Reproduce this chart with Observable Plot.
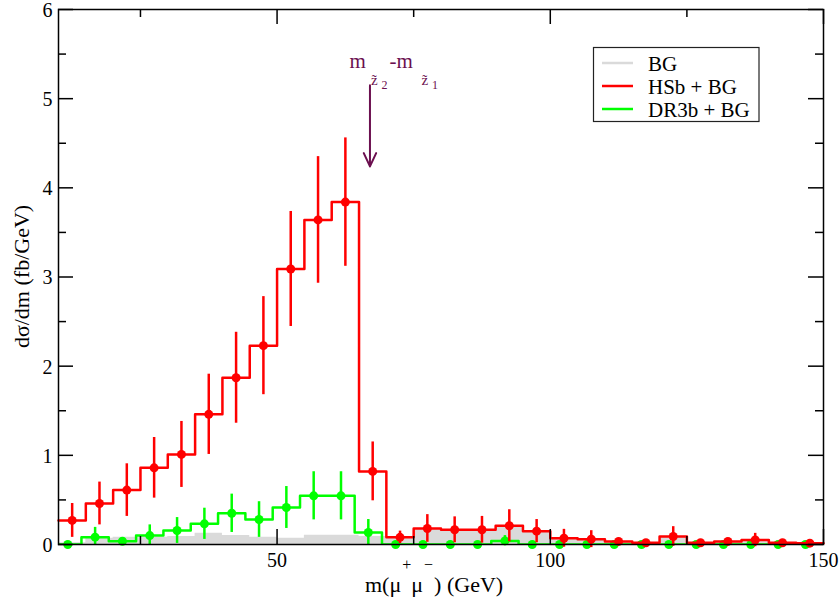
<!DOCTYPE html>
<html><head><meta charset="utf-8">
<script src="https://cdn.jsdelivr.net/npm/d3@7"></script>
<script src="https://cdn.jsdelivr.net/npm/@observablehq/plot@0.6"></script>
<style>body{margin:0;background:#fff}</style>
</head><body><div id="chart"></div>
<script>
// ---------- data ----------
const binCenters = [12.5,17.5,22.5,27.5,32.5,37.5,42.5,47.5,52.5,57.5,62.5,67.5,72.5,77.5,82.5,87.5,92.5,97.5,102.5,107.5,112.5,117.5,122.5,127.5,132.5,137.5,142.5,147.5];
const bgValues = [0.02,0.071,0.082,0.08,0.09,0.127,0.10,0.082,0.07,0.105,0.105,0.09,0.07,0.165,0.15,0.157,0.2,0.15,0.064,0.052,0.02,0.01,0.09,0.01,0.02,0.045,0.015,0.01];
const hsbValues = [0.27,0.46,0.61,0.86,1.01,1.46,1.87,2.23,3.09,3.64,3.84,0.82,0.08,0.18,0.165,0.165,0.21,0.15,0.07,0.06,0.035,0.02,0.09,0.02,0.035,0.05,0.02,0.015];
const hsbErrors = [0.19,0.24,0.295,0.34,0.37,0.45,0.51,0.55,0.645,0.71,0.72,0.33,0.07,0.155,0.145,0.15,0.18,0.13,0.10,0.095,0.03,0.015,0.11,0.015,0.03,0.075,0.015,0.01];
const dr3bCenters = [11.7,16.7,21.7,26.7,31.7,36.7,41.7,46.7,51.7,56.7,61.7,66.7,71.7,76.7,81.7,86.7,91.7,96.7,101.7,106.7,111.7,116.7,121.7,126.7,131.7,136.7,141.7,146.7];
const dr3bValues = [0,0.082,0.037,0.10,0.157,0.232,0.35,0.28,0.415,0.546,0.546,0.135,0,0,0,0,0.04,0,0,0,0,0,0,0,0,0,0,0];
const dr3bErrors = [0,0.11,0.03,0.12,0.145,0.175,0.215,0.2,0.235,0.27,0.27,0.145,0,0,0,0,0.06,0,0,0,0,0,0,0,0,0,0,0];
const binWidth = 5;
const xMajorTicks = [50,100,150];
const xMinorTicks = [25,75,125];
const yMajorTicks = [0,1,2,3,4,5,6];
const yMinorTicks = [0.5,1.5,2.5,3.5,4.5,5.5];
const arrowAnnot = [{x: 67, y1: 5.15, y2: 4.24}];
const legendLabels = ["BG","HSb + BG","DR3b + BG"];
const legendColors = ["#dadada","#ff0000","#00ff00"];

// ---------- derived tables ----------
function steps(centers, values) {
  const s = centers.map((c, i) => ({x: c - binWidth / 2, y: values[i]}));
  s.push({x: centers[centers.length - 1] + binWidth / 2, y: values[values.length - 1]});
  return s;
}
const hsb = binCenters.map((c, i) => ({x: c, y: hsbValues[i], lo: hsbValues[i] - hsbErrors[i], hi: hsbValues[i] + hsbErrors[i]}));
const dr3b = dr3bCenters.map((c, i) => ({x: c, y: dr3bValues[i], lo: Math.max(0, dr3bValues[i] - dr3bErrors[i]), hi: dr3bValues[i] + dr3bErrors[i]}));
const bgSteps = steps(binCenters, bgValues);
const hsbSteps = steps(binCenters, hsbValues);
const dr3bSteps = steps(dr3bCenters, dr3bValues);

const W = 840, H = 607, mL = 58, mR = 17, mT = 9, mB = 63;
const fw = W - mL - mR, fh = H - mT - mB;
const major = 15, minor = 8;
const RED = "#ff0000", GREEN = "#00ff00", GRAY = "#dadada", ANN = "#6b0f4f";
const serif = "Liberation Serif";
const tickStyle = {stroke: "black", strokeWidth: 1.5};

const chart = Plot.plot({
  width: W, height: H,
  marginLeft: mL, marginRight: mR, marginTop: mT, marginBottom: mB,
  x: {domain: [10, 150]},
  y: {domain: [0, 6]},
  style: {fontFamily: serif, fontSize: "20px", background: "white", color: "black"},
  marks: [
    Plot.areaY(bgSteps, {x: "x", y: "y", curve: "step-after", fill: GRAY}),
    Plot.line(dr3bSteps, {x: "x", y: "y", curve: "step-after", stroke: GREEN, strokeWidth: 2.5, clip: true}),
    Plot.ruleX(dr3b.filter(d => d.hi - d.lo > 0), {x: "x", y1: "lo", y2: "hi", stroke: GREEN, strokeWidth: 2.5}),
    Plot.dot(dr3b, {x: "x", y: "y", r: 4.5, fill: GREEN}),
    Plot.line(hsbSteps, {x: "x", y: "y", curve: "step-after", stroke: RED, strokeWidth: 2.5}),
    Plot.ruleX(hsb, {x: "x", y1: "lo", y2: "hi", stroke: RED, strokeWidth: 2.5}),
    Plot.dot(hsb, {x: "x", y: "y", r: 4.5, fill: RED}),
    // ticks (inward, all four sides)
    Plot.ruleX(xMajorTicks, {...tickStyle, insetTop: fh - major}),
    Plot.ruleX(xMinorTicks, {...tickStyle, insetTop: fh - minor}),
    Plot.ruleX(xMajorTicks, {...tickStyle, insetBottom: fh - major}),
    Plot.ruleX(xMinorTicks, {...tickStyle, insetBottom: fh - minor}),
    Plot.ruleY(yMajorTicks, {...tickStyle, insetRight: fw - major}),
    Plot.ruleY(yMinorTicks, {...tickStyle, insetRight: fw - minor}),
    Plot.ruleY(yMajorTicks, {...tickStyle, insetLeft: fw - major}),
    Plot.ruleY(yMinorTicks, {...tickStyle, insetLeft: fw - minor}),
    Plot.axisX({ticks: xMajorTicks, tickSize: 0, tickPadding: 8, label: null, tickFormat: d3.format("d"), fontFamily: serif, fontSize: 20}),
    Plot.axisY({ticks: yMajorTicks, tickSize: 0, tickPadding: 6, label: null, tickFormat: d3.format("d"), fontFamily: serif, fontSize: 20, dy: 1}),
    Plot.frame({stroke: "black", strokeWidth: 1.5}),
    Plot.arrow(arrowAnnot, {x: "x", y1: "y1", y2: "y2", stroke: ANN, strokeWidth: 2, headLength: 11, headAngle: 50})
  ]
});
document.getElementById("chart").appendChild(chart);

// ---------- text overlays ----------
const svg = d3.select(chart);
const xs = chart.scale("x"), ys = chart.scale("y");

function txt(parent, x, y, size, fill, anchor) {
  return parent.append("text").attr("x", x).attr("y", y)
    .attr("font-family", serif).attr("font-size", size).attr("fill", fill)
    .attr("text-anchor", anchor || "start").style("font-family", serif);
}

// y-axis label
txt(svg, 0, 0, 22, "black", "middle")
  .attr("transform", `translate(29,${mT + fh / 2}) rotate(-90)`)
  .text("dσ/dm (fb/GeV)");

// x-axis label with superscripts
const xl = txt(svg, 365, 592, 22, "black", "start");
xl.append("tspan").text("m(μ");
xl.append("tspan").attr("font-size", 16).attr("dy", -22).attr("dx", 1).text("+");
xl.append("tspan").attr("dy", 22).text("μ");
xl.append("tspan").attr("font-size", 16).attr("dy", -22).attr("dx", 1).text("−");
xl.append("tspan").attr("dy", 22).attr("dx", 1).text(") (GeV)");

// annotation text above the arrow
const ax = xs.apply(arrowAnnot[0].x), ay = ys.apply(arrowAnnot[0].y1);
txt(svg, ax - 20, ay - 16.5, 21, ANN).text("m");
txt(svg, ax + 1.5, ay + 0.5, 15, ANN).text("z\u0303");
txt(svg, ax + 12, ay + 4, 12, ANN).text("2");
txt(svg, ax + 20, ay - 16.5, 21, ANN).text("-m");
txt(svg, ax + 52, ay + 0.5, 15, ANN).text("z\u0303");
txt(svg, ax + 62.5, ay + 4, 12, ANN).text("1");

// legend box
const lg = svg.append("g");
lg.append("rect").attr("x", 593.5).attr("y", 47.5).attr("width", 165.5).attr("height", 74)
  .attr("fill", "white").attr("stroke", "#222").attr("stroke-width", 1.2);
legendLabels.forEach((lab, i) => {
  const by = 70.5 + i * 23;
  lg.append("line").attr("x1", 602).attr("x2", 633).attr("y1", by - 7.5).attr("y2", by - 7.5)
    .attr("stroke", legendColors[i]).attr("stroke-width", 2.5);
  txt(lg, 648, by, 21, "black").text(lab);
});
</script>
</body></html>
